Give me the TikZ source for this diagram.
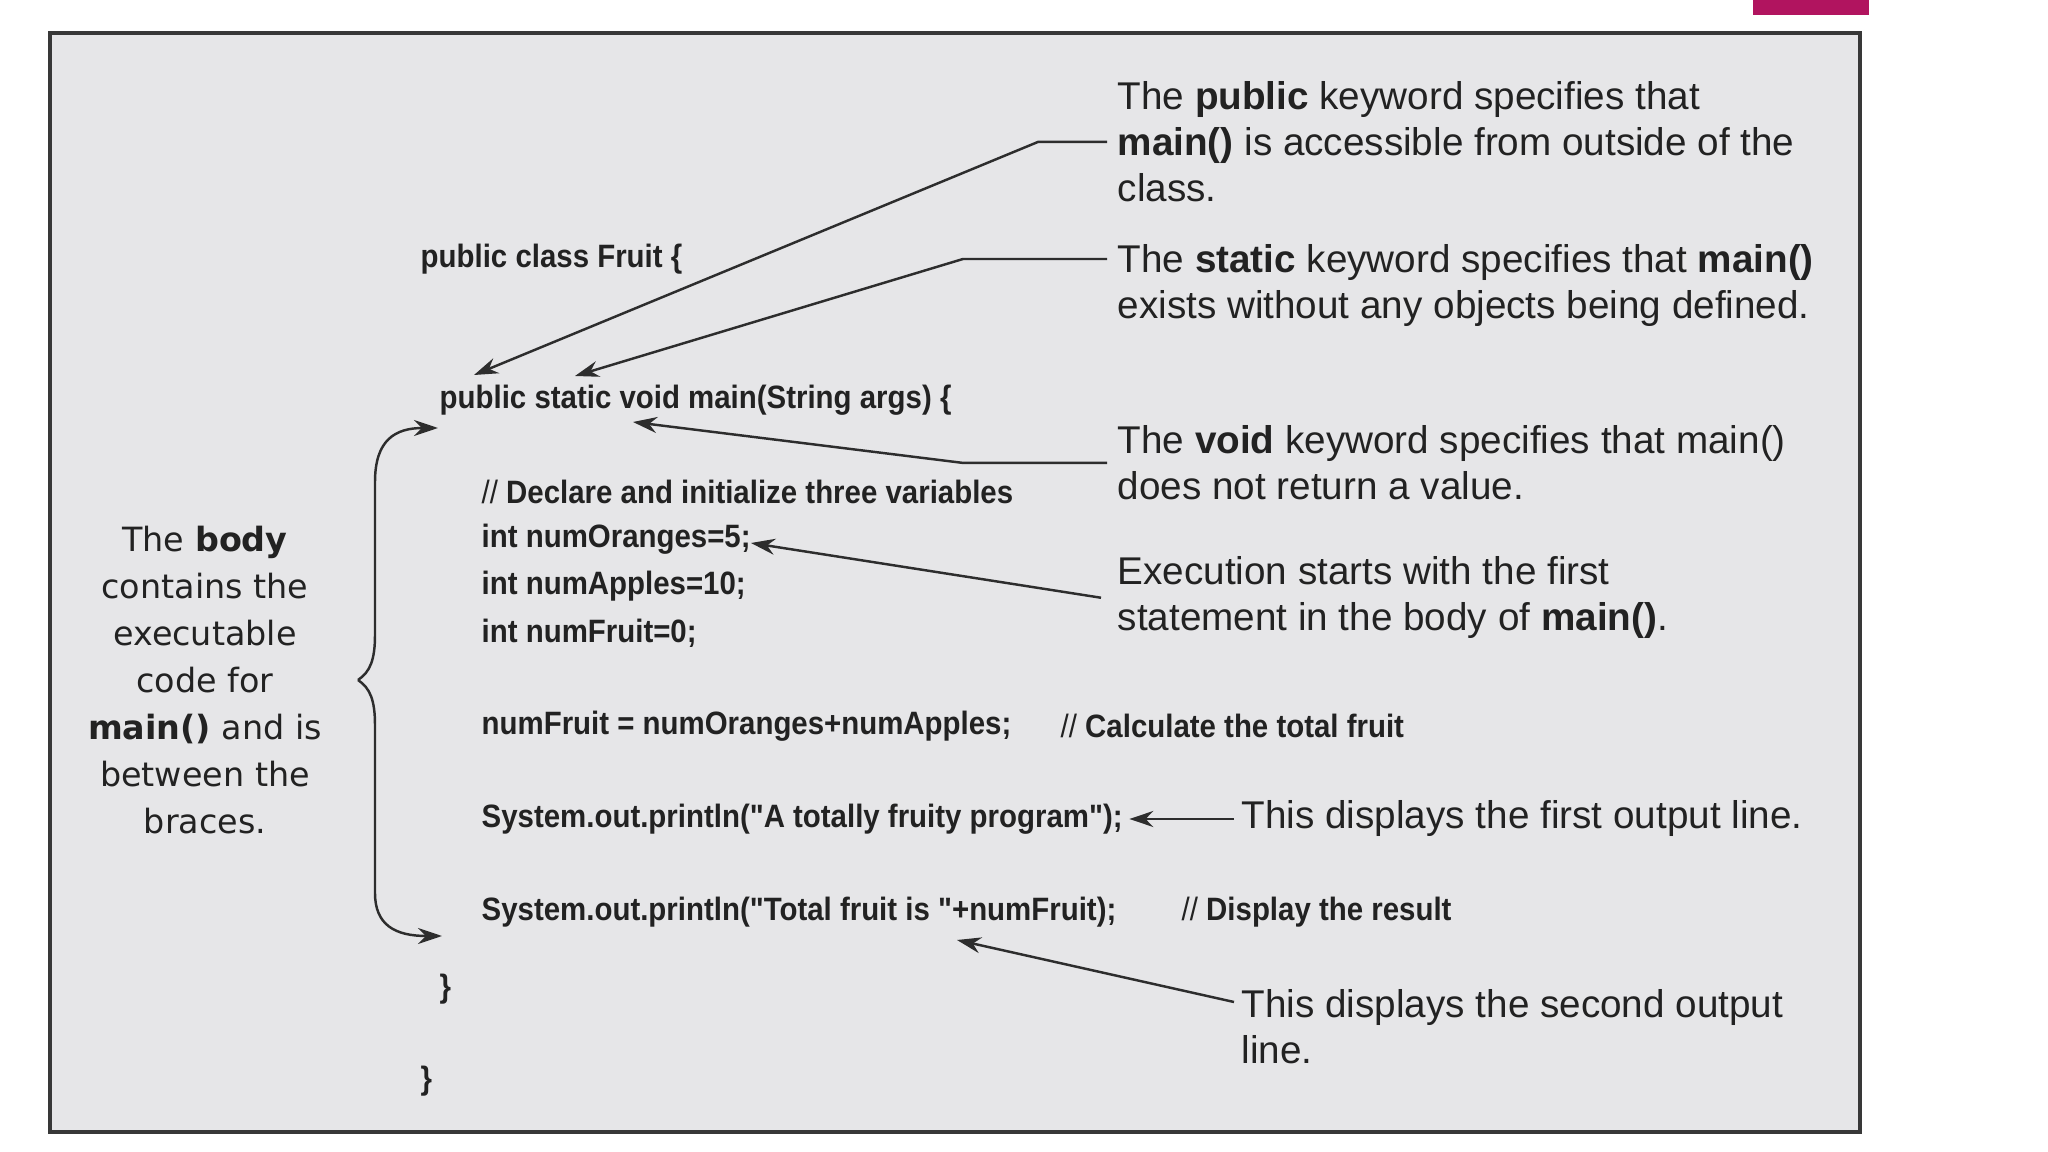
\documentclass[tikz,border=0pt]{standalone}
\usepackage{fontspec}
\usetikzlibrary{arrows.meta,calc,positioning}
\definecolor{ink}{HTML}{222222}
\definecolor{panelgray}{HTML}{E6E6E8}
\definecolor{berry}{HTML}{B1145F}
\newfontfamily\codefont[FakeStretch=0.91]{Liberation Sans}
\newfontfamily\notefont{Liberation Sans}
\newfontfamily\bodyfont{DejaVu Sans}

\begin{document}
\begin{tikzpicture}[text=ink, >={Stealth[length=2.4mm,width=1.6mm]},
  codeline/.style={anchor=west, inner sep=0pt, font=\codefont\bfseries\fontsize{9.2}{11}\selectfont},
  note/.style={anchor=north west, inner sep=0pt, align=left, font=\notefont\fontsize{11}{13.1}\selectfont},
  pointer/.style={->, draw=ink!95, line width=0.7pt}]
  \useasboundingbox (0,0) rectangle (20.48,-11.52);
  \fill[berry] (17.53,0) rectangle (18.69,-0.15);
  \draw[ink!90, line width=1pt, fill=panelgray] (0.50,-0.33) rectangle (18.60,-11.32);

  % the program
  \node[codeline] (cls) at (4.20,-2.59) {public class Fruit \{};
  \node[codeline] (mainln) at (4.39,-4.00) {public static void main(String args) \{};
  \node[codeline] (decl) at (4.81,-4.92) {{\mdseries //} Declare and initialize three variables};
  \node[codeline] (oranges) at (4.81,-5.39) {int numOranges=5;};
  \node[codeline] (apples) at (4.81,-5.86) {int numApples=10;};
  \node[codeline] (fruit) at (4.81,-6.33) {int numFruit=0;};
  \node[codeline] (total) at (4.81,-7.26) {numFruit = numOranges+numApples;};
  \node[codeline] (totalcmt) at (10.60,-7.26) {{\mdseries //} Calculate the total fruit};
  \node[codeline] (print1) at (4.81,-8.19) {System.out.println("A totally fruity program");};
  \node[codeline] (print2) at (4.81,-9.12) {System.out.println("Total fruit is "+numFruit);};
  \node[codeline] (resultcmt) at (11.81,-9.12) {{\mdseries //} Display the result};
  \node[codeline] (endmain) at (4.39,-9.89) {\}};
  \node[codeline] (endclass) at (4.20,-10.81) {\}};

  % the notes
  \node[note] (pubnote) at (11.17,-0.81) {The \textbf{public} keyword specifies that\\\textbf{main()} is accessible from outside of the\\class.};
  \node[note] (statnote) at (11.17,-2.44) {The \textbf{static} keyword specifies that \textbf{main()}\\exists without any objects being defined.};
  \node[note] (voidnote) at (11.17,-4.25) {The \textbf{void} keyword specifies that main()\\does not return a value.};
  \node[note] (execnote) at (11.17,-5.56) {Execution starts with the first\\statement in the body of \textbf{main()}.};
  \node[note, anchor=west] (out1note) at (12.41,-8.19) {This displays the first output line.};
  \node[note] (out2note) at (12.41,-9.89) {This displays the second output\\line.};
  \node[align=center, inner sep=0pt, font=\bodyfont\fontsize{9.5}{13.4}\selectfont] (body) at (2.05,-6.80) {The \textbf{body}\\contains the\\executable\\code for\\\textbf{main()} and is\\between the\\braces.};

  \coordinate (pubtip) at (4.74,-3.75);
  \coordinate (stattip) at (5.75,-3.76);
  \coordinate (voidtip) at (6.33,-4.22);
  \coordinate (exectip) at (7.51,-5.43);
  \coordinate (out2tip) at (9.57,-9.40);
  \coordinate (cusp) at (3.58,-6.80);
  \coordinate (bodytop) at (4.38,-4.28);
  \coordinate (bodybottom) at (4.42,-9.36);

  \draw[pointer] ([xshift=-1mm]pubnote.west) -- ++(-0.69,0) -- (pubtip);
  \draw[pointer] ([xshift=-1mm,yshift=-1.5mm]statnote.north west) -- ++(-1.44,0) -- (stattip);
  \draw[pointer] ([xshift=-1mm]voidnote.west) -- ++(-1.44,0) -- (voidtip);
  \draw[pointer] ([xshift=-1.6mm]execnote.west) -- (exectip);
  \draw[pointer] ([xshift=-0.7mm]out1note.west) -- ([xshift=0.6mm]print1.east);
  \draw[pointer] ([xshift=-0.7mm,yshift=-1.3mm]out2note.north west) -- (out2tip);

  % brace round the body
  \draw[pointer] (cusp) .. controls (3.70,-6.72) and (3.75,-6.60) .. (3.75,-6.35) -- (3.75,-4.82) .. controls (3.75,-4.40) and (3.95,-4.28) .. (bodytop);
  \draw[pointer] (cusp) .. controls (3.70,-6.88) and (3.75,-7.00) .. (3.75,-7.25) -- (3.75,-8.93) .. controls (3.75,-9.25) and (3.95,-9.36) .. (bodybottom);
\end{tikzpicture}
\end{document}
